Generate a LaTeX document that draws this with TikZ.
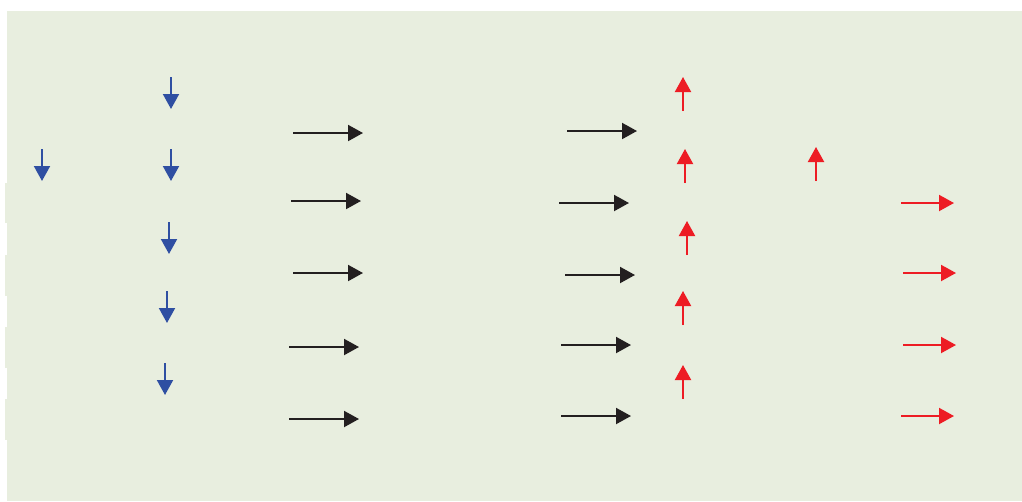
\documentclass[tikz,border=0pt]{standalone}
\usetikzlibrary{arrows.meta}
\definecolor{panel}{HTML}{E8EEDF}
\definecolor{flowblue}{HTML}{2F4FA2}
\definecolor{flowred}{HTML}{ED1C24}
\definecolor{flowblack}{HTML}{231F20}
\tikzset{
  vec/.style={line width=2pt, -{Triangle[length=15pt,width=16pt]}},
  down/.style={vec, draw=flowblue, fill=flowblue},
  up/.style={vec, draw=flowred, fill=flowred},
  right/.style={vec, draw=flowblack, fill=flowblack},
  rightred/.style={vec, draw=flowred, fill=flowred},
}
\begin{document}
\begin{tikzpicture}[x=1pt,y=-1pt]
  \useasboundingbox (0,0) rectangle (1022,501);
  % panel with its slightly uneven left edge
  \fill[panel] (7,11) rectangle (1022,501);
  \foreach \a/\b in {183/223, 255/296, 327/368, 399/440}
    \fill[panel] (5,\a) rectangle (8,\b);

  % downward blue vectors
  \draw[down] (42,149) -- (42,181);
  \draw[down] (171,77) -- (171,109);
  \draw[down] (171,149) -- (171,181);
  \draw[down] (169,222) -- (169,254);
  \draw[down] (167,291) -- (167,323);
  \draw[down] (165,363) -- (165,395);

  % black vectors, first column
  \draw[right] (293,133) -- (363,133);
  \draw[right] (291,201) -- (361,201);
  \draw[right] (293,273) -- (363,273);
  \draw[right] (289,347) -- (359,347);
  \draw[right] (289,419) -- (359,419);

  % black vectors, second column
  \draw[right] (567,131) -- (637,131);
  \draw[right] (559,203) -- (629,203);
  \draw[right] (565,275) -- (635,275);
  \draw[right] (561,345) -- (631,345);
  \draw[right] (561,416) -- (631,416);

  % upward red vectors
  \draw[up] (683,111) -- (683,77);
  \draw[up] (685,183) -- (685,149);
  \draw[up] (687,255) -- (687,221);
  \draw[up] (683,325) -- (683,291);
  \draw[up] (683,399) -- (683,365);
  \draw[up] (816,181) -- (816,147);

  % red vectors on the right
  \draw[rightred] (901,203) -- (954,203);
  \draw[rightred] (903,273) -- (956,273);
  \draw[rightred] (903,345) -- (956,345);
  \draw[rightred] (901,416) -- (954,416);
\end{tikzpicture}
\end{document}
